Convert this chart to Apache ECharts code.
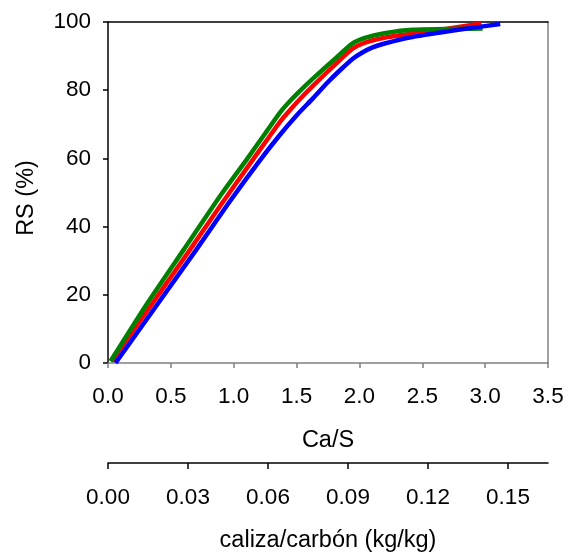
<!DOCTYPE html>
<html>
<head>
<meta charset="utf-8">
<script src="https://cdn.jsdelivr.net/npm/echarts@6/dist/echarts.min.js"></script>
<style>html,body{margin:0;padding:0;background:#fff;}#c{width:573px;height:556px;}</style>
</head>
<body>
<div id="c"></div>
<script>
// Data (x = Ca/S, y = RS %)
const greenData = [[0.02,0.5],[0.3,16.8],[0.6,33.1],[0.9,49.4],[1.1,59.5],[1.25,67.3],[1.365,73.3],[1.45,76.9],[1.55,80.6],[1.63,83.4],[1.8,89.0],[1.94,93.6],[2.05,95.4],[2.2,96.7],[2.42,97.7],[2.98,98.1]];
const redData   = [[0.03,0.5],[0.65,33.1],[0.9,46.5],[1.15,59.5],[1.28,66.2],[1.365,70.6],[1.45,74.3],[1.55,78.3],[1.63,81.3],[1.8,87.3],[1.94,92.0],[2.05,94.0],[2.2,95.4],[2.42,96.6],[2.7,98.0],[2.97,99.6]];
const blueData  = [[0.06,0.0],[0.7,33.1],[0.95,46.4],[1.21,59.5],[1.365,66.8],[1.5,72.6],[1.63,77.6],[1.75,82.4],[1.85,86.0],[1.95,89.3],[2.02,91.0],[2.1,92.5],[2.2,93.7],[2.42,95.6],[2.8,97.8],[3.12,99.4]];
const secondaryTicks = [0, 0.03, 0.06, 0.09, 0.12, 0.15];
const xTitle = 'Ca/S';
const yTitle = 'RS (%)';
const x2Title = 'caliza/carbón (kg/kg)';

const FONT = 'Liberation Sans, Arial, sans-serif';
const chart = echarts.init(document.getElementById('c'), null, {renderer: 'canvas'});
const lbl = {color: '#000', fontFamily: FONT, fontSize: 22.5};
const ttl = {color: '#000', fontFamily: FONT, fontSize: 23.5};

function ser(data, color) {
  return {type: 'line', data: data, xAxisIndex: 0, yAxisIndex: 0, showSymbol: false, symbol: 'none',
    smooth: 0.2, lineStyle: {color: color, width: 4.5}, itemStyle: {color: color}, silent: true};
}

chart.setOption({
  animation: false,
  backgroundColor: '#fff',
  grid: [
    {left: 108, top: 22, width: 440, height: 341, containLabel: false},
    {left: 108, top: 462, width: 440, height: 1, containLabel: false}
  ],
  xAxis: [
    {type: 'value', gridIndex: 0, position: 'bottom', min: 0, max: 3.5, interval: 0.5,
     axisLine: {show: true, onZero: false, lineStyle: {color: '#808080', width: 1.5}},
     axisTick: {show: true, inside: false, length: 5, lineStyle: {color: '#808080', width: 1.5}},
     axisLabel: Object.assign({margin: 22, formatter: v => v.toFixed(1)}, lbl),
     splitLine: {show: false},
     name: xTitle, nameLocation: 'middle', nameGap: 66, nameTextStyle: ttl},
    {type: 'value', gridIndex: 0, position: 'top', min: 0, max: 3.5,
     axisLine: {show: true, onZero: false, lineStyle: {color: '#000', width: 1.5}},
     axisTick: {show: false}, axisLabel: {show: false}, splitLine: {show: false}},
    {type: 'value', gridIndex: 1, position: 'bottom', min: 0, max: 0.165,
     axisLine: {show: true, onZero: false, lineStyle: {color: '#000', width: 1.5}},
     axisTick: {show: true, inside: false, length: 6, customValues: secondaryTicks, lineStyle: {color: '#000', width: 1.5}},
     axisLabel: Object.assign({margin: 23, customValues: secondaryTicks, formatter: v => v.toFixed(2)}, lbl),
     splitLine: {show: false},
     name: x2Title, nameLocation: 'middle', nameGap: 66, nameTextStyle: ttl}
  ],
  yAxis: [
    {type: 'value', gridIndex: 0, position: 'left', min: 0, max: 100, interval: 20,
     axisLine: {show: true, onZero: false, lineStyle: {color: '#000', width: 1.5}},
     axisTick: {show: true, inside: false, length: 5, lineStyle: {color: '#000', width: 1.5}},
     axisLabel: Object.assign({margin: 17}, lbl),
     splitLine: {show: false},
     name: yTitle, nameLocation: 'middle', nameGap: 69, nameRotate: 90,
     nameTextStyle: Object.assign({padding: [0, 11, 0, 0]}, ttl)},
    {type: 'value', gridIndex: 0, position: 'right', min: 0, max: 100,
     axisLine: {show: true, onZero: false, lineStyle: {color: '#808080', width: 1.5}},
     axisTick: {show: false}, axisLabel: {show: false}, splitLine: {show: false}},
    {type: 'value', gridIndex: 1, show: false, min: 0, max: 1}
  ],
  series: [
    ser(redData, '#ff0000'),
    ser(greenData, '#008000'),
    ser(blueData, '#0000ff')
  ]
});
</script>
</body>
</html>
